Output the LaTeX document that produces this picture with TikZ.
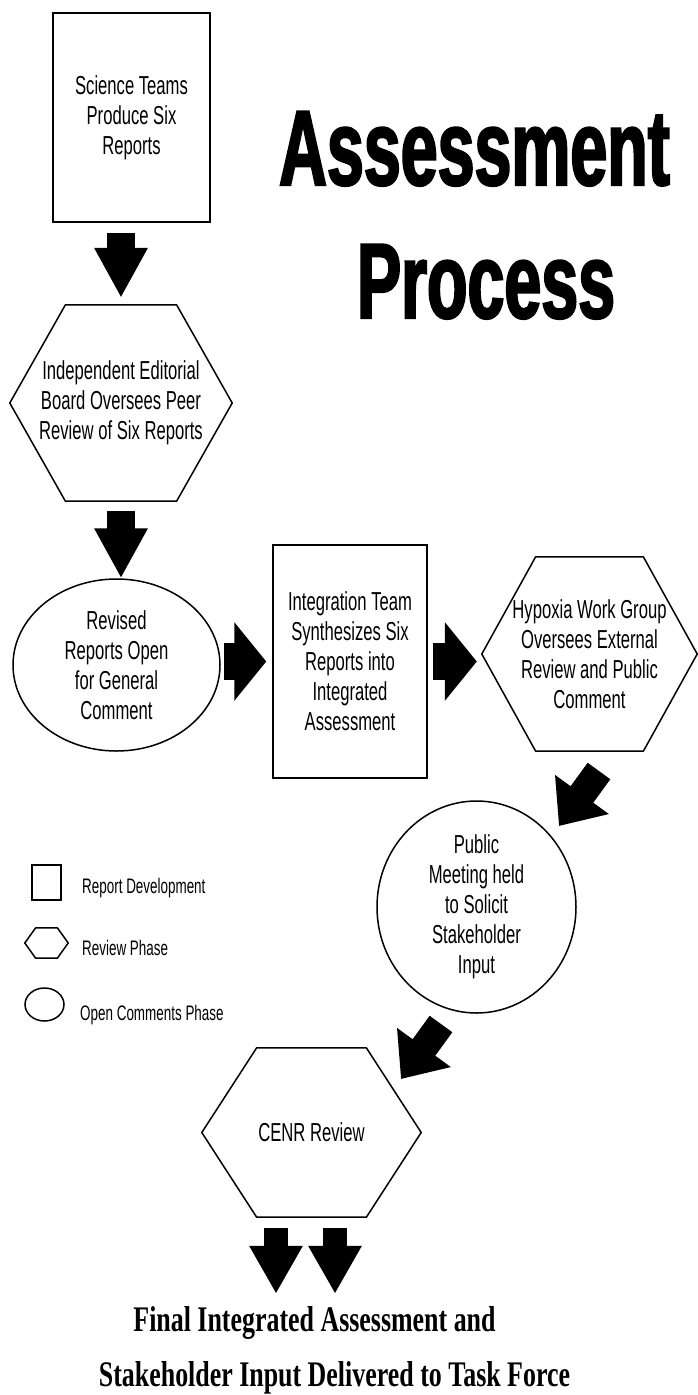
\documentclass[tikz,border=0pt]{standalone}
\usepackage{fontspec}
\usepackage{tikz}
\usetikzlibrary{arrows.meta,shapes.geometric,calc}

\newfontfamily\bodyfont[FakeStretch=0.64]{Liberation Sans}
\newfontfamily\headfont[FakeStretch=0.62, FakeBold=2]{Liberation Sans Bold}
\newfontfamily\footfont[FakeStretch=0.72]{Liberation Serif}
\newcommand{\hexframe}[1]{\draw[line width=1.5pt, line join=round] (#1.west) -- ($(#1.north west)!.25!(#1.north east)$) -- ($(#1.north west)!.75!(#1.north east)$) -- (#1.east) -- ($(#1.south west)!.75!(#1.south east)$) -- ($(#1.south west)!.25!(#1.south east)$) -- cycle;}

\begin{document}
\begin{tikzpicture}[x=1pt, y=-1pt,
	every node/.style={inner sep=0pt, align=center, font=\bodyfont\fontsize{26}{30}\selectfont},
	report/.style={draw, line width=1.5pt, rectangle},
	review/.style={rectangle},
	opencomment/.style={draw, line width=1.5pt, ellipse},
	keytext/.style={anchor=base west, font=\bodyfont\fontsize{21}{24}\selectfont},
	downarrow/.style={line width=28pt, -{Triangle[length=50pt, width=50pt]}},
	pairarrow/.style={line width=24pt, -{Triangle[length=48pt, width=50pt]}},
	rightarrow/.style={line width=37pt, -{Triangle[length=32pt, width=77pt]}},
	slantarrow/.style={line width=28pt, -{Triangle[length=39pt, width=64pt]}}]
	\useasboundingbox (0,0) rectangle (698,1395);
	\node[font=\headfont\fontsize{107}{107}\selectfont, anchor=base] (titletop) at (474.5,185) {Assessment};
	\node[font=\headfont\fontsize{107}{107}\selectfont, anchor=base] (titlebottom) at (486,318) {Process};
	\node[report, minimum width=157pt, minimum height=209pt] (science) at (131.5,117.5) {Science Teams\\Produce Six\\Reports};
	\node[review, minimum width=222pt, minimum height=196pt] (board) at (121,403) {Independent Editorial\\Board Oversees Peer\\Review of Six Reports};
	\hexframe{board}
	\node[opencomment, minimum width=207pt, minimum height=172pt] (revised) at (116.5,665) {Revised\\Reports Open\\for General\\Comment};
	\node[report, minimum width=154pt, minimum height=233pt] (synth) at (350,661.5) {Integration Team\\Synthesizes Six\\Reports into\\Integrated\\Assessment};
	\node[review, minimum width=215pt, minimum height=194pt] (hypoxia) at (589.5,654) {Hypoxia Work Group\\Oversees External\\Review and Public\\Comment};
	\hexframe{hypoxia}
	\node[opencomment, minimum width=199pt, minimum height=212pt] (meeting) at (476.5,907) {Public\\Meeting held\\to Solicit\\Stakeholder\\Input};
	\node[review, minimum width=219pt, minimum height=169pt] (cenr) at (311.5,1132.5) {CENR Review};
	\hexframe{cenr}
	\node[font=\footfont\bfseries\fontsize{36}{36}\selectfont, anchor=base] (final) at (314.5,1331) {Final Integrated Assessment and};
	\node[font=\footfont\bfseries\fontsize{36}{36}\selectfont, anchor=base] (taskforce) at (334.5,1386) {Stakeholder Input Delivered to Task Force};
	\node[report, minimum width=29pt, minimum height=35pt] (keyreport) at (46.5,882.5) {};
	\node[review, minimum width=43pt, minimum height=30pt] (keyreview) at (46.5,943) {};
	\hexframe{keyreview}
	\node[opencomment, minimum width=39pt, minimum height=33pt] (keyopen) at (44.5,1004.5) {};
	\node[keytext] (keyreporttext) at (82,893) {Report Development};
	\node[keytext] (keyreviewtext) at (82,955) {Review Phase};
	\node[keytext] (keyopentext) at (80,1020) {Open Comments Phase};
	\coordinate (hypoxia out) at (599,771);
	\coordinate (meeting in) at (559,826);
	\coordinate (meeting out) at (441,1024);
	\coordinate (cenr in) at (401,1079);
	\draw[downarrow, shorten <=10pt, shorten >=7pt] (science.south -| board.north) -- (board.north);
	\draw[downarrow, shorten <=10pt] (board.south) -- (board.south |- revised.north);
	\draw[rightarrow, shorten <=3pt, shorten >=6pt] (revised.east |- synth.west) -- (synth.west);
	\draw[rightarrow, shorten <=5pt, shorten >=5pt] (synth.east) -- (synth.east -| hypoxia.west);
	\draw[slantarrow] (hypoxia out) -- (meeting in);
	\draw[slantarrow] (meeting out) -- (cenr in);
	\draw[pairarrow, shorten <=11pt, shorten >=12pt] ([xshift=-35.5pt]cenr.south) -- ([xshift=-35.5pt]cenr.south |- final.north);
	\draw[pairarrow, shorten <=11pt, shorten >=12pt] ([xshift=23.5pt]cenr.south) -- ([xshift=23.5pt]cenr.south |- final.north);
\end{tikzpicture}
\end{document}
